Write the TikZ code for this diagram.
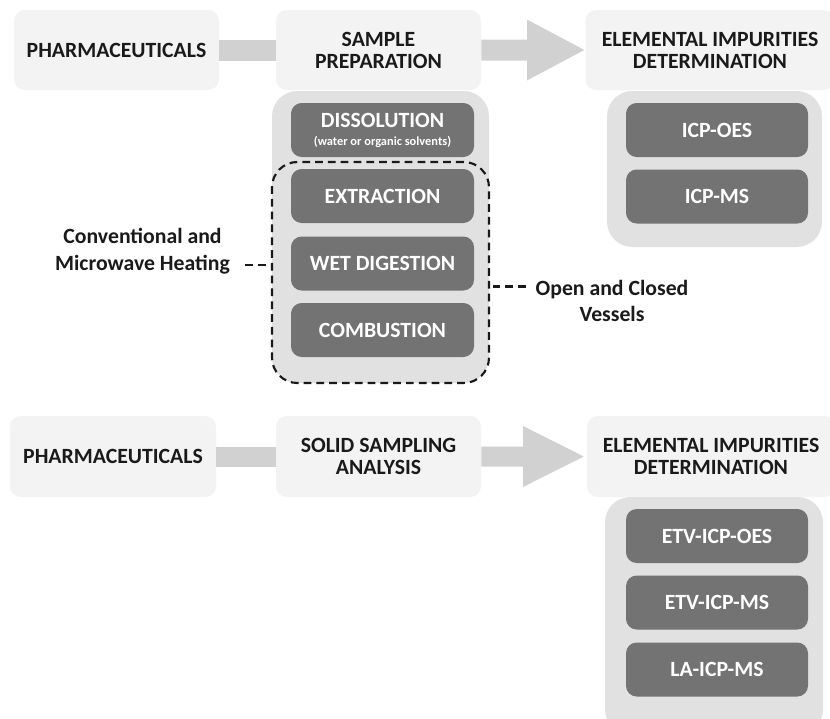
\documentclass[tikz,border=0pt]{standalone}
\usepackage{fontspec}
\setmainfont{Carlito}
\usetikzlibrary{calc}
\definecolor{paleg}{HTML}{F3F3F3}
\definecolor{contg}{HTML}{E1E1E1}
\definecolor{darkg}{HTML}{737373}
\definecolor{arrg}{HTML}{D0D1D0}
\definecolor{txt}{HTML}{1A1A1A}
\tikzset{
  x=0.75pt, y=-0.75pt,
  headbox/.style={rectangle, rounded corners=8pt, fill=paleg, inner sep=0pt, align=center,
    font=\bfseries\fontsize{16.3}{16.5}\selectfont, text=txt},
  contbox/.style={rectangle, rounded corners=19pt, fill=contg, inner sep=0pt},
  techbox/.style={rectangle, rounded corners=8pt, fill=darkg, inner sep=0pt, align=center,
    font=\bfseries\fontsize{16.3}{16.5}\selectfont, text=white,
    minimum width={183*0.75pt}, minimum height={54*0.75pt}},
  lbl/.style={align=center, font=\bfseries\fontsize{16.3}{19.8}\selectfont, text=txt},
  dashline/.style={draw=black!90, line width=1.6pt, dash pattern=on 5.8pt off 3.8pt},
  bar/.style={fill=arrg}
}
\begin{document}
\begin{tikzpicture}
\useasboundingbox (0,0) rectangle (830,718);
% ---------- top row ----------
\node[headbox, minimum width={205*0.75pt}, minimum height={80*0.75pt}] (p1) at (116.5,50) {PHARMACEUTICALS};
\node[headbox, minimum width={205*0.75pt}, minimum height={80*0.75pt}] (s1) at (378.5,50) {SAMPLE\\PREPARATION};
\node[headbox, minimum width={249*0.75pt}, minimum height={80*0.75pt}] (e1) at (710,50) {ELEMENTAL IMPURITIES\\DETERMINATION};
% connectors
\fill[bar] ($(p1.east)+(0,-10.5)$) rectangle ($(s1.west)+(0,10.5)$);
\coordinate (h1) at (527,50);
\fill[bar] ($(s1.east)+(0,-10.5)$) -- ($(h1)+(0,-10.5)$) -- ($(h1)+(0,-30.5)$) -- ($(e1.west)+(-1,0)$) -- ($(h1)+(0,30.5)$) -- ($(h1)+(0,10.5)$) -- ($(s1.east)+(0,10.5)$) -- cycle;
% containers
\node[contbox, minimum width={217*0.75pt}, minimum height={292*0.75pt}] (c1) at (380.5,237) {};
\node[contbox, minimum width={215*0.75pt}, minimum height={156*0.75pt}] (c2) at (714.5,169) {};
% sample prep techniques
\node[techbox] (d1) at (382.5,130) {DISSOLUTION\\[-3pt]{\fontsize{9.3}{10}\selectfont (water or organic solvents)}};
\node[techbox] (t1) at (382.5,196) {EXTRACTION};
\node[techbox] (t2) at (382.5,263.5) {WET DIGESTION};
\node[techbox] (t3) at (382.5,330) {COMBUSTION};
\node[rectangle, rounded corners=19pt, dashline, inner sep=0pt, minimum width={217*0.75pt}, minimum height={221*0.75pt}] (dz) at (380.5,272.5) {};
% determination
\node[techbox, minimum width={182*0.75pt}] (i1) at (717,130) {ICP-OES};
\node[techbox, minimum width={182*0.75pt}] (i2) at (717,196.5) {ICP-MS};
% labels
\node[lbl] (l1) at (142.5,251) {Conventional and\\Microwave Heating};
\coordinate (l1e) at (245,265);
\draw[dashline] (l1e) -- (l1e -| dz.west);
\node[lbl] (l2) at (612,301) {Open and Closed\\Vessels};
\coordinate (l2e) at (526,286.5);
\draw[dashline] (l2e) -- (l2e -| dz.east);
% ---------- bottom row ----------
\node[headbox, minimum width={206*0.75pt}, minimum height={81*0.75pt}] (p2) at (113,456.5) {PHARMACEUTICALS};
\node[headbox, minimum width={205*0.75pt}, minimum height={81*0.75pt}] (s2) at (378.5,456.5) {SOLID SAMPLING\\ANALYSIS};
\node[headbox, minimum width={248*0.75pt}, minimum height={81*0.75pt}] (e2) at (711,456.5) {ELEMENTAL IMPURITIES\\DETERMINATION};
\fill[bar] ($(p2.east)+(0,-10)$) rectangle ($(s2.west)+(0,10)$);
\coordinate (h2) at (523,456.5);
\fill[bar] ($(s2.east)+(0,-10)$) -- ($(h2)+(0,-10)$) -- ($(h2)+(0,-30.5)$) -- ($(e2.west)+(-3,0)$) -- ($(h2)+(0,30.5)$) -- ($(h2)+(0,10)$) -- ($(s2.east)+(0,10)$) -- cycle;
\node[contbox, minimum width={218*0.75pt}, minimum height={238*0.75pt}] (c3) at (714,616) {};
\node[techbox, minimum width={182*0.75pt}] (j1) at (717,536) {ETV-ICP-OES};
\node[techbox, minimum width={182*0.75pt}] (j2) at (717,602.5) {ETV-ICP-MS};
\node[techbox, minimum width={182*0.75pt}] (j3) at (717,669.5) {LA-ICP-MS};
\end{tikzpicture}
\end{document}
